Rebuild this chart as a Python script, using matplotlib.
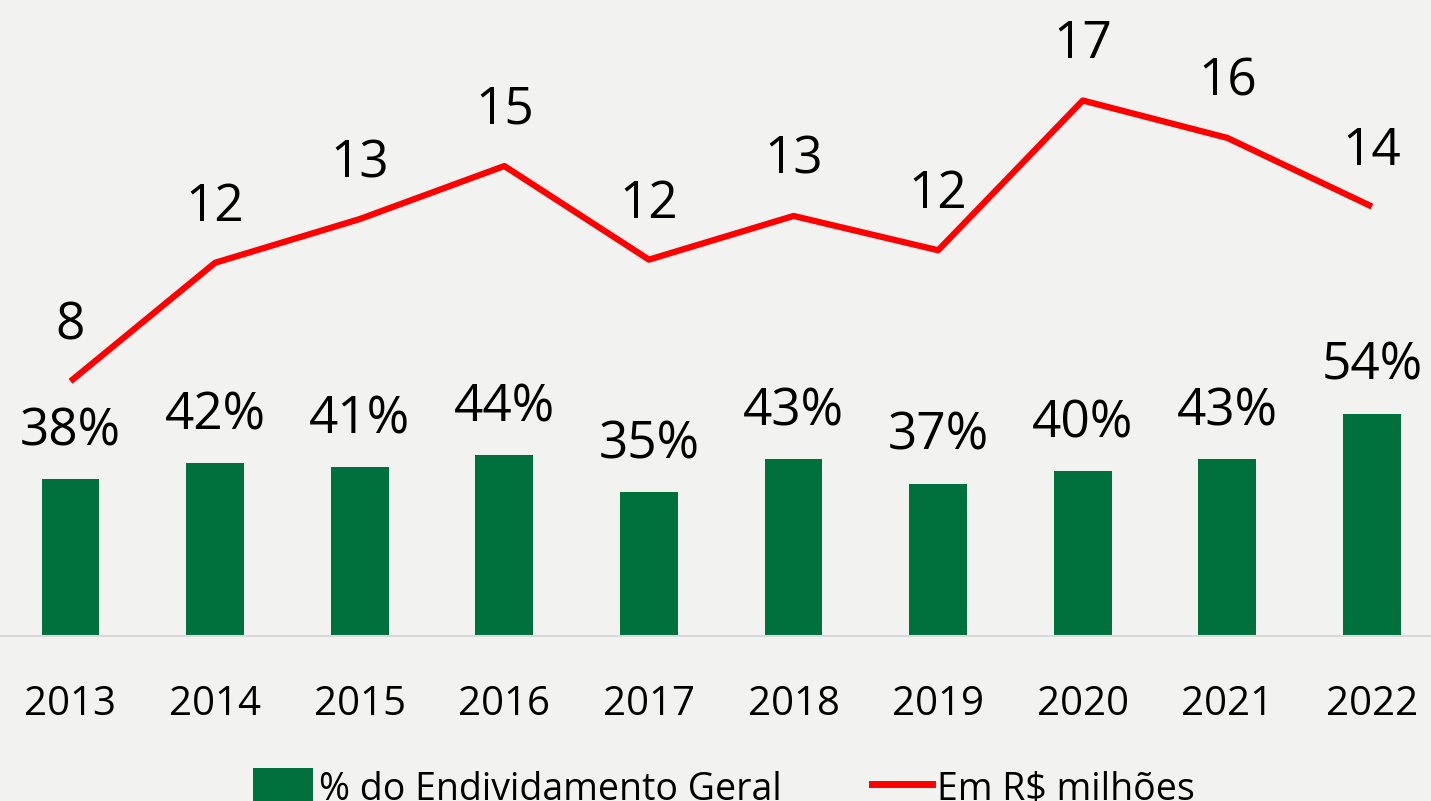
import matplotlib
matplotlib.use('Agg')
import matplotlib.pyplot as plt
from matplotlib.patches import Patch
from matplotlib.lines import Line2D

plt.rcParams['font.family'] = ['Open Sans', 'DejaVu Sans']

years = ['2013', '2014', '2015', '2016', '2017', '2018', '2019', '2020', '2021', '2022']
pct_endividamento = [38, 42, 41, 44, 35, 43, 37, 40, 43, 54]
em_milhoes = [8.0, 11.8, 13.2, 14.9, 11.9, 13.3, 12.2, 17.0, 15.8, 13.6]

green = '#00703c'
red = '#ff0000'
bg = '#f2f2f1'

fig = plt.figure(figsize=(14.31, 8.01), dpi=100, facecolor=bg)
ax = fig.add_axes([0, 165 / 801, 1, 636 / 801])
ax.set_facecolor(bg)
x = list(range(len(years)))

# bars: share of total debt
ax.bar(x, pct_endividamento, width=0.40, color=green, zorder=2)
ax.set_xlim(-0.4875, 9.408)
ax.set_ylim(0, 154.4)
for xi, v in zip(x, pct_endividamento):
    ax.annotate(f'{v}%', (xi, v), xytext=(0, 34), textcoords='offset points',
                ha='center', va='center', fontsize=37, color='black')

# line: amount in R$ millions, on its own scale
ax2 = ax.twinx()
ax2.plot(x, em_milhoes, color=red, lw=4.5, solid_capstyle='butt', zorder=3)
ax2.set_ylim(-0.16, 20.22)
for xi, v in zip(x, em_milhoes):
    ax2.annotate(f'{v:.0f}', (xi, v), xytext=(0, 40), textcoords='offset points',
                 ha='center', va='center', fontsize=37, color='black')

for a in (ax, ax2):
    for s in a.spines.values():
        s.set_visible(False)
    a.set_yticks([])
ax.spines['bottom'].set_visible(True)
ax.spines['bottom'].set_color('#d9d9d9')
ax.spines['bottom'].set_linewidth(1.5)
ax.set_xticks(x)
ax.set_xticklabels(years, fontsize=29)
ax.tick_params(axis='x', length=0, pad=35)

handles = [Patch(facecolor=green, edgecolor='none'),
           Line2D([0], [0], color=red, lw=5)]
fig.legend(handles, ['% do Endividamento Geral', 'Em R$ milhões'],
           loc='center', bbox_to_anchor=(0.506, 0.016), ncol=2, frameon=False,
           fontsize=27, handlelength=1.6, handleheight=1.2, handletextpad=0.15,
           columnspacing=2.4, borderpad=0)

fig.savefig('out.png', dpi=100, facecolor=bg)
